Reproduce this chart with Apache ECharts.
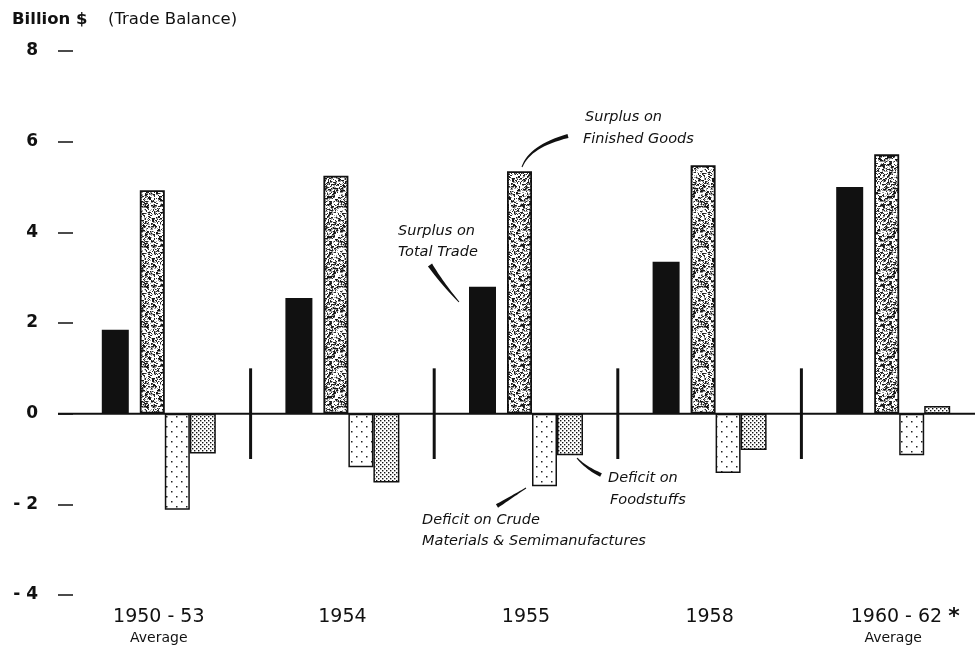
<!DOCTYPE html>
<html>
<head>
<meta charset="utf-8">
<script src="https://cdn.jsdelivr.net/npm/echarts@6/dist/echarts.min.js"></script>
<style>
  html, body { margin: 0; padding: 0; background: #ffffff; }
  #chart { width: 975px; height: 653px; }
</style>
</head>
<body>
<div id="chart"></div>
<script>
// ---- data ----
const categories = ['1950 - 53', '1954', '1955', '1958', '1960 - 62'];
const subLabels = ['Average', '', '', '', 'Average'];
const totalTrade = [1.85, 2.55, 2.8, 3.35, 5.0];
const finishedGoods = [4.93, 5.25, 5.35, 5.48, 5.72];
const crudeMaterials = [-2.12, -1.18, -1.6, -1.31, -0.92];
const foodstuffs = [-0.88, -1.52, -0.92, -0.8, 0.17];
const yTicks = { min: -4, max: 8, interval: 2 };
const dividers = [0, 1, 2, 3];

// ---- patterns ----
function makePattern(w, h, draw) {
  const c = document.createElement('canvas');
  c.width = w; c.height = h;
  const ctx = c.getContext('2d');
  ctx.fillStyle = '#ffffff';
  ctx.fillRect(0, 0, w, h);
  draw(ctx, w, h);
  return c;
}
function texHash(x, y) {
  let h = Math.imul(x, 374761393) + Math.imul(y, 668265263);
  h = Math.imul(h ^ (h >>> 13), 1274126177);
  h = h ^ (h >>> 16);
  return (h >>> 0) / 4294967296;
}
const speckle = makePattern(40, 40, (ctx, w, h) => {
  for (let x = 0; x < w; x++) {
    for (let y = 0; y < h; y++) {
      const r = texHash(x, y);
      if (r < 0.09) { ctx.fillStyle = '#151515'; ctx.fillRect(x, y, 2, 1.5); }
      else if (r < 0.25) { ctx.fillStyle = '#2a2a2a'; ctx.fillRect(x, y, 1, 1); }
      else if (r < 0.38) { ctx.fillStyle = '#a0a0a0'; ctx.fillRect(x, y, 1, 1); }
    }
  }
});
const sparseDots = makePattern(10, 10, (ctx) => {
  ctx.fillStyle = '#222';
  ctx.fillRect(1, 1, 1.5, 1.5);
  ctx.fillRect(6, 6, 1.5, 1.5);
});
const denseDots = makePattern(4, 4, (ctx) => {
  ctx.fillStyle = '#111';
  ctx.fillRect(0, 0, 1.4, 1.4);
  ctx.fillRect(2, 2, 1.4, 1.4);
});

const chart = echarts.init(document.getElementById('chart'), null, { renderer: 'canvas' });

const FONT = '"DejaVu Sans", "Liberation Sans", sans-serif';

function taper(p0, pc, p1, w0, w1, n) {
  const left = [], right = [];
  for (let i = 0; i <= n; i++) {
    const t = i / n;
    const x = (1 - t) * (1 - t) * p0[0] + 2 * (1 - t) * t * pc[0] + t * t * p1[0];
    const y = (1 - t) * (1 - t) * p0[1] + 2 * (1 - t) * t * pc[1] + t * t * p1[1];
    const dx = 2 * (1 - t) * (pc[0] - p0[0]) + 2 * t * (p1[0] - pc[0]);
    const dy = 2 * (1 - t) * (pc[1] - p0[1]) + 2 * t * (p1[1] - pc[1]);
    const len = Math.sqrt(dx * dx + dy * dy) || 1;
    const w = (w0 + (w1 - w0) * t) / 2;
    const nx = -dy / len * w, ny = dx / len * w;
    left.push([x + nx, y + ny]);
    right.unshift([x - nx, y - ny]);
  }
  return left.concat(right);
}

function annText(x, y, text) {
  return {
    type: 'text', x: x, y: y, silent: true,
    style: { text: text, fill: '#111', font: 'italic 14.5px ' + FONT, textVerticalAlign: 'middle', textAlign: 'left' }
  };
}
function leader(p0, pc, p1, w0, w1) {
  return { type: 'polygon', silent: true, shape: { points: taper(p0, pc, p1, w0, w1, 16) }, style: { fill: '#111' } };
}

const barBase = { type: 'bar', barGap: '0%', animation: false };

const option = {
  animation: false,
  backgroundColor: '#ffffff',
  grid: { left: 67, width: 918, top: 51, bottom: 58, containLabel: false, outerBoundsMode: 'none' },
  xAxis: {
    type: 'category',
    data: categories,
    axisLine: { show: false, onZero: false },
    axisTick: { show: false },
    splitLine: { show: false },
    axisLabel: {
      interval: 0,
      margin: 11,
      color: '#111',
      fontFamily: FONT,
      formatter: function (v, i) {
        const last = i === categories.length - 1;
        let s = last ? '{p| }{y|' + v + '}{s|*}' : '{y|' + v + '}';
        if (subLabels[i]) s += '\n{a|' + subLabels[i] + '}';
        return s;
      },
      rich: {
        y: { fontSize: 19, fontFamily: FONT, color: '#111', lineHeight: 23 },
        s: { fontSize: 22, fontWeight: 'bold', fontFamily: FONT, color: '#111', lineHeight: 23, padding: [0, 0, 0, 6] },
        p: { width: 24, fontSize: 19, lineHeight: 23 },
        a: { fontSize: 14, fontFamily: FONT, color: '#111', lineHeight: 19 }
      }
    }
  },
  yAxis: {
    type: 'value',
    min: yTicks.min, max: yTicks.max, interval: yTicks.interval,
    position: 'left',
    offset: 9,
    axisLine: { show: false },
    axisTick: { show: true, inside: true, length: 15, lineStyle: { color: '#111', width: 1.5 } },
    splitLine: { show: false },
    axisLabel: {
      margin: 20,
      color: '#111',
      fontSize: 17,
      fontWeight: 'bold',
      fontFamily: FONT,
      formatter: function (v) { return v < 0 ? '- ' + Math.abs(v) : String(v); }
    }
  },
  series: [
    Object.assign({}, barBase, {
      name: 'Surplus on Total Trade', data: totalTrade, barWidth: 27,
      itemStyle: { color: '#111' }
    }),
    Object.assign({}, barBase, { name: 'spacer', data: [], barWidth: 11, itemStyle: { color: 'transparent' } }),
    Object.assign({}, barBase, {
      name: 'Surplus on Finished Goods', data: finishedGoods, barWidth: 25,
      itemStyle: { color: { image: speckle, repeat: 'repeat' }, borderColor: '#111', borderWidth: 1.8 }
    }),
    Object.assign({}, barBase, {
      name: 'Deficit on Crude Materials & Semimanufactures', data: crudeMaterials, barWidth: 25,
      itemStyle: { color: { image: sparseDots, repeat: 'repeat' }, borderColor: '#111', borderWidth: 1.5 }
    }),
    Object.assign({}, barBase, {
      name: 'Deficit on Foodstuffs', data: foodstuffs, barWidth: 26,
      itemStyle: { color: { image: denseDots, repeat: 'repeat' }, borderColor: '#111', borderWidth: 1.5 }
    }),
    {
      type: 'custom',
      name: 'dividers',
      data: dividers.map(d => [d]),
      encode: { x: 0 },
      silent: true,
      z: 3,
      renderItem: function (params, api) {
        const i = api.value(0);
        const c = api.coord([i, 0]);
        const bw = api.size([1, 0])[0];
        const x = c[0] + bw / 2;
        const yTop = api.coord([i, 1])[1];
        const yBot = api.coord([i, -1])[1];
        return { type: 'line', shape: { x1: x, y1: yTop, x2: x, y2: yBot }, style: { stroke: '#111', lineWidth: 3 } };
      }
    }
  ],
  graphic: []
};

chart.setOption(option);

const y0 = chart.convertToPixel({ yAxisIndex: 0 }, 0);

chart.setOption({
  graphic: [
    { type: 'line', silent: true, z: 10, shape: { x1: 58, y1: y0, x2: 975, y2: y0 }, style: { stroke: '#111', lineWidth: 2 } },
    { type: 'text', x: 12, y: 20, silent: true, style: { text: 'Billion $', fill: '#111', font: 'bold 16.5px ' + FONT, textVerticalAlign: 'middle' } },
    { type: 'text', x: 108, y: 20, silent: true, style: { text: '(Trade Balance)', fill: '#111', font: '16.5px ' + FONT, textVerticalAlign: 'middle' } },

    annText(585, 117, 'Surplus on'),
    annText(583, 139, 'Finished Goods'),
    leader([522, 167], [530, 146], [568, 136], 1, 4),

    annText(398, 231, 'Surplus on'),
    annText(398, 252, 'Total Trade'),
    leader([430, 265], [442, 283], [459, 302], 5, 1),

    annText(608, 478, 'Deficit on'),
    annText(610, 500, 'Foodstuffs'),
    leader([577, 458], [586, 468], [601, 475], 1, 4),

    annText(422, 520, 'Deficit on Crude'),
    annText(422, 541, 'Materials & Semimanufactures'),
    leader([497, 506], [510, 498], [526, 488], 4, 1)
  ]
});
</script>
</body>
</html>
